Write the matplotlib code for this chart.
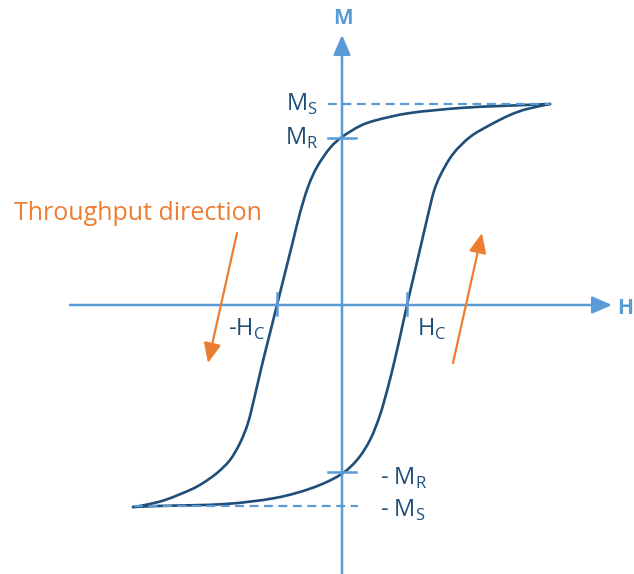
import numpy as np
import matplotlib.pyplot as plt
from matplotlib.path import Path
from matplotlib.patches import PathPatch

plt.rcParams['font.family'] = ['Open Sans', 'DejaVu Sans']

# loop values (H, M in pixel units from the origin)
H_desc = [208, 158, 118, 68, 35, 18, 0, -12, -25, -34, -42, -49, -57, -65, -72, -80, -87, -94,
          -102, -112, -125, -139, -152, -177, -197, -209]
M_desc = [201, 199, 197, 192, 185, 179, 168, 157, 138, 118, 92, 64, 32, 0, -28, -60, -90, -118,
          -138, -155, -168, -178, -185, -195, -200, -202]
H_asc = [-209, -184, -117, -67, -30, -2, 15, 28, 38, 46, 52, 58, 65, 72, 79, 86, 92, 99,
         111, 128, 148, 168, 185, 208]
M_asc = [-202, -201, -199, -193, -183, -170, -155, -135, -110, -82, -58, -32, 0, 30, 60, 90, 114, 131,
         151, 168, 180, 190, 196, 201]

Ms, Mr, Hc, Hsat = 201, 167, 65, 208
M_labels = ['M$_\\mathregular{S}$', 'M$_\\mathregular{R}$', '- M$_\\mathregular{R}$', '- M$_\\mathregular{S}$']

axis_c = '#5b9bd5'
curve_c = '#1f4e79'
orange = '#ed7d31'


def smooth_path(xs, ys):
    # bezier path through the read points (catmull-rom style handles)
    p = np.column_stack([xs, ys]).astype(float)
    p = np.vstack([p[0], p, p[-1]])
    verts = [p[1]]
    codes = [Path.MOVETO]
    for i in range(1, len(p) - 2):
        c1 = p[i] + (p[i + 1] - p[i - 1]) / 6
        c2 = p[i + 1] - (p[i + 2] - p[i]) / 6
        verts += [c1, c2, p[i + 1]]
        codes += [Path.CURVE4] * 3
    return Path(verts, codes)


fig = plt.figure(figsize=(6.34, 5.74), dpi=100)
ax = fig.add_axes([0, 0, 1, 1])
ax.set_xlim(-342, 292)
ax.set_ylim(-269, 305)
ax.axis('off')

arrow = '-|>,head_length=0.8,head_width=0.35'

# axes with arrows
ax.annotate('', xy=(270, 0), xytext=(-272, 0),
            arrowprops=dict(arrowstyle=arrow, mutation_scale=15, color=axis_c, lw=1.8, shrinkA=0, shrinkB=0))
ax.annotate('', xy=(0, 270), xytext=(0, -269),
            arrowprops=dict(arrowstyle=arrow, mutation_scale=15, color=axis_c, lw=1.8, shrinkA=0, shrinkB=0))
ax.text(1, 287, 'M', color=axis_c, fontsize=15, fontweight='bold', ha='center', va='center')
ax.text(291, -3, 'H', color=axis_c, fontsize=15, fontweight='bold', ha='right', va='center')

# saturation dashes and remanence ticks
ax.plot([-14, Hsat], [Ms, Ms], color=axis_c, lw=1.6, ls=(0, (4, 2.5)))
ax.plot([-Hsat, 16], [-Ms, -Ms], color=axis_c, lw=1.6, ls=(0, (4, 2.5)))
ax.plot([-14, 14], [Mr, Mr], color=axis_c, lw=1.8)
ax.plot([-14, 14], [-Mr, -Mr], color=axis_c, lw=1.8)
ax.plot([-Hc, -Hc], [-10, 12], color=axis_c, lw=1.8)
ax.plot([Hc, Hc], [-10, 12], color=axis_c, lw=1.8)

# hysteresis loop
for hs, ms in [(H_desc, M_desc), (H_asc, M_asc)]:
    ax.add_patch(PathPatch(smooth_path(hs, ms), fill=False, edgecolor=curve_c, lw=1.9,
                           capstyle='round', joinstyle='round'))

# labels
ax.text(-24, Ms, M_labels[0], color=curve_c, fontsize=17, ha='right', va='center')
ax.text(-24, Mr, M_labels[1], color=curve_c, fontsize=17, ha='right', va='center')
ax.text(38, -Mr - 6, M_labels[2], color=curve_c, fontsize=17, ha='left', va='center')
ax.text(38, -Ms - 4, M_labels[3], color=curve_c, fontsize=17, ha='left', va='center')
ax.text(-77, -24, '-H$_\\mathregular{C}$', color=curve_c, fontsize=17, ha='right', va='center')
ax.text(75, -24, 'H$_\\mathregular{C}$', color=curve_c, fontsize=17, ha='left', va='center')

# throughput direction
ax.text(-328, 91, 'Throughput direction', color=orange, fontsize=18, ha='left', va='center')
ax.annotate('', xy=(-134, -58), xytext=(-105, 72),
            arrowprops=dict(arrowstyle=arrow, mutation_scale=15, color=orange, lw=1.6, shrinkA=0, shrinkB=0))
ax.annotate('', xy=(140, 72), xytext=(111, -58),
            arrowprops=dict(arrowstyle=arrow, mutation_scale=15, color=orange, lw=1.6, shrinkA=0, shrinkB=0))

fig.savefig('out.png', dpi=100)
